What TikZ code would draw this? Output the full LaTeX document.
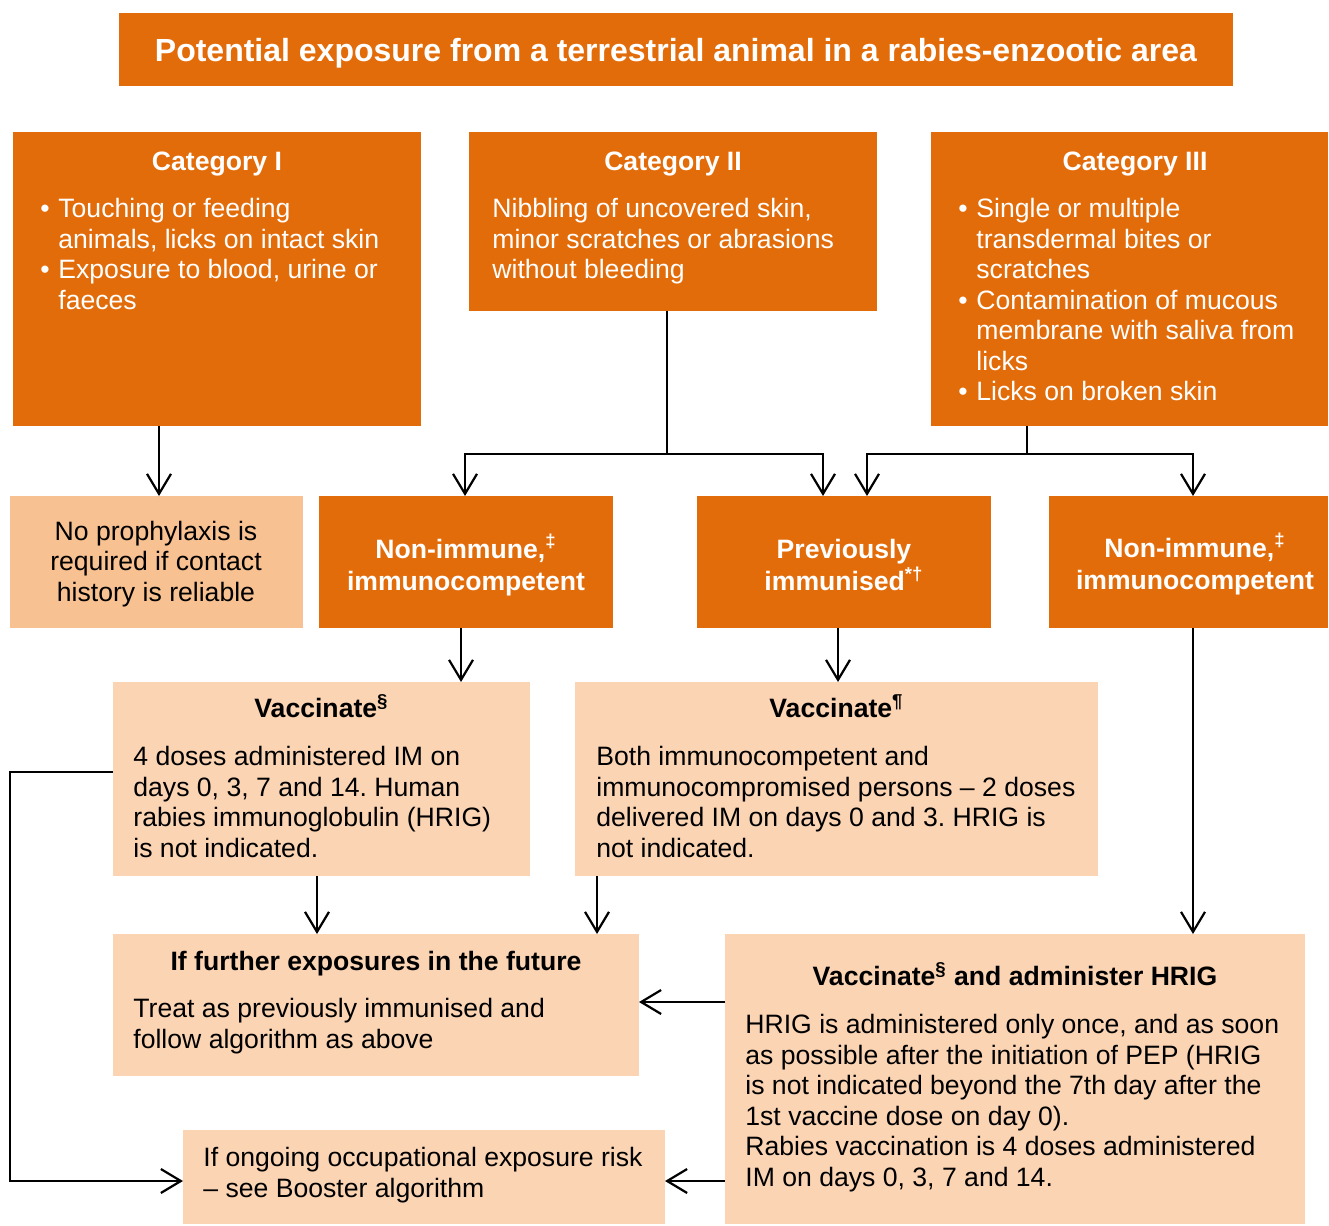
\documentclass[tikz,border=0pt]{standalone}
\usepackage{fontspec}
\setmainfont{Liberation Sans}
\usetikzlibrary{arrows.meta,fit}
\definecolor{rabiesorange}{HTML}{E36C0A}
\definecolor{peachdark}{HTML}{F8C191}
\definecolor{peachlight}{HTML}{FBD4B4}
\newcommand{\panel}[6]{
  \node[panel, fill=#6, fit={(#2,#3) (#4,#5)}] (#1) {};
}
\newcommand{\bul}{\makebox[9pt][l]{•}}
\newcommand{\ind}{\hspace*{9pt}}
\frenchspacing
\tikzset{
  panel/.style={rectangle, inner sep=0pt, outer sep=0pt},
  body/.style={inner sep=0pt, align=left, anchor=north west,
    font=\fontsize{13.3}{15.25}\selectfont},
  head/.style={inner sep=0pt, align=center,
    font=\fontsize{13.3}{16}\selectfont\bfseries},
  arr/.style={-{Straight Barb[length=10pt,width=12pt]}, line width=1.1pt},
  link/.style={line width=1.1pt},
}

\begin{document}
\begin{tikzpicture}[x=0.5pt, y=-0.5pt]
  \useasboundingbox (0,0) rectangle (1329,1226);

  % Title
  % =====
  \panel{title}{119}{13}{1233}{86}{rabiesorange}
  \node[head, white, font=\fontsize{16}{18}\selectfont\bfseries] (titletxt) at (676,53)
  {Potential exposure from a terrestrial animal in a rabies-enzootic area};

  % Categories
  % ==========
  \panel{cat1}{13}{132}{421}{426}{rabiesorange}
  \panel{cat2}{469}{132}{877}{311}{rabiesorange}
  \panel{cat3}{931}{132}{1328}{426}{rabiesorange}

  \node[head, white] (cat1h) at (217,164) {Category I};
  \node[head, white] (cat2h) at (673,164) {Category II};
  \node[head, white] (cat3h) at (1135,164) {Category III};

  \node[body, white] (cat1b) at (40,198)
  {\bul Touching or feeding\\ \ind animals, licks on intact skin\\
    \bul Exposure to blood, urine or\\ \ind faeces};
  \node[body, white] (cat2b) at (492,198)
  {Nibbling of uncovered skin,\\ minor scratches or abrasions\\ without bleeding};
  \node[body, white] (cat3b) at (958,198)
  {\bul Single or multiple\\ \ind transdermal bites or\\ \ind scratches\\
    \bul Contamination of mucous\\ \ind membrane with saliva from\\ \ind licks\\
    \bul Licks on broken skin};

  % Immune status
  % =============
  \panel{nopro}{10}{496}{303}{628}{peachdark}
  \panel{nonimL}{319}{496}{613}{628}{rabiesorange}
  \panel{prev}{697}{496}{991}{628}{rabiesorange}
  \panel{nonimR}{1049}{496}{1328}{628}{rabiesorange}

  \node[body, anchor=center, align=center] (noprotxt) at (156,564)
  {No prophylaxis is\\ required if contact\\ history is reliable};
  \node[head, white] (nonimLtxt) at (466,565)
  {Non-immune,\textsuperscript{‡}\\ immunocompetent};
  \node[head, white] (prevtxt) at (844,565)
  {Previously\\ immunised\textsuperscript{*†}};
  \node[head, white] (nonimRtxt) at (1195,564)
  {Non-immune,\textsuperscript{‡}\\ immunocompetent};

  % Treatment
  % =========
  \panel{vac1}{113}{682}{530}{876}{peachlight}
  \panel{vac2}{575}{682}{1098}{876}{peachlight}
  \panel{further}{113}{934}{639}{1076}{peachlight}
  \panel{hrig}{725}{934}{1305}{1224}{peachlight}
  \panel{ongo}{183}{1130}{665}{1224}{peachlight}

  \node[head] (vac1h) at (vac1.north |- 0,706) {Vaccinate\textsuperscript{§}};
  \node[body] (vac1b) at (133,746)
  {4 doses administered IM on\\ days 0, 3, 7 and 14. Human\\
    rabies immunoglobulin (HRIG)\\ is not indicated.};

  \node[head] (vac2h) at (vac2.north |- 0,706) {Vaccinate\textsuperscript{¶}};
  \node[body] (vac2b) at (596,746)
  {Both immunocompetent and\\ immunocompromised persons – 2 doses\\
    delivered IM on days 0 and 3. HRIG is\\ not indicated.};

  \node[head] (furtherh) at (further.north |- 0,964) {If further exposures in the future};
  \node[body] (furtherb) at (133,998)
  {Treat as previously immunised and\\ follow algorithm as above};

  \node[head] (hrigh) at (hrig.north |- 0,974)
  {Vaccinate\textsuperscript{§} and administer HRIG};
  \node[body] (hrigb) at (745,1014)
  {HRIG is administered only once, and as soon\\
    as possible after the initiation of PEP (HRIG\\
    is not indicated beyond the 7th day after the\\
    1st vaccine dose on day 0).\\
    Rabies vaccination is 4 doses administered\\
    IM on days 0, 3, 7 and 14.};

  \node[body] (ongob) at (203,1147)
  {If ongoing occupational exposure risk\\ – see Booster algorithm};

  % Connectors
  % ==========
  \coordinate (j2) at (667,454);
  \coordinate (j3) at (1027,454);

  \draw[arr] ([xshift=1.25pt]nopro.north |- cat1.south) -- ([xshift=1.25pt]nopro.north);

  \draw[link] (cat2.south -| j2) -- (j2);
  \draw[arr] (j2) -| ([xshift=-0.5pt]nonimL.north);
  \draw[arr] (j2) -| ([xshift=-10.5pt]prev.north);

  \draw[link] (cat3.south -| j3) -- (j3);
  \draw[arr] (j3) -| ([xshift=11.5pt]prev.north);
  \draw[arr] (j3) -| ([xshift=2.25pt]nonimR.north);

  \draw[arr] ([xshift=-2.5pt]nonimL.south) -- ([xshift=-2.5pt]nonimL.south |- vac1.north);
  \draw[arr] ([xshift=-3pt]prev.south) -- ([xshift=-3pt]prev.south |- vac2.north);
  \draw[arr] ([xshift=2.25pt]nonimR.south) -- ([xshift=2.25pt]nonimR.south |- hrig.north);

  \draw[arr] ([xshift=-2.25pt]vac1.south) -- ([xshift=-2.25pt]vac1.south |- further.north);
  \draw[arr] ([xshift=11pt]vac2.south west) -- ([xshift=11pt]vac2.south west |- further.north);

  \draw[arr] (hrig.west |- 0,1002) -- (further.east |- 0,1002);
  \draw[arr] (hrig.west |- 0,1181) -- (ongo.east |- 0,1181);
  \draw[arr] (vac1.west |- 0,772) -- (nopro.west |- 0,772) |- (ongo.west |- 0,1181);

\end{tikzpicture}
\end{document}
